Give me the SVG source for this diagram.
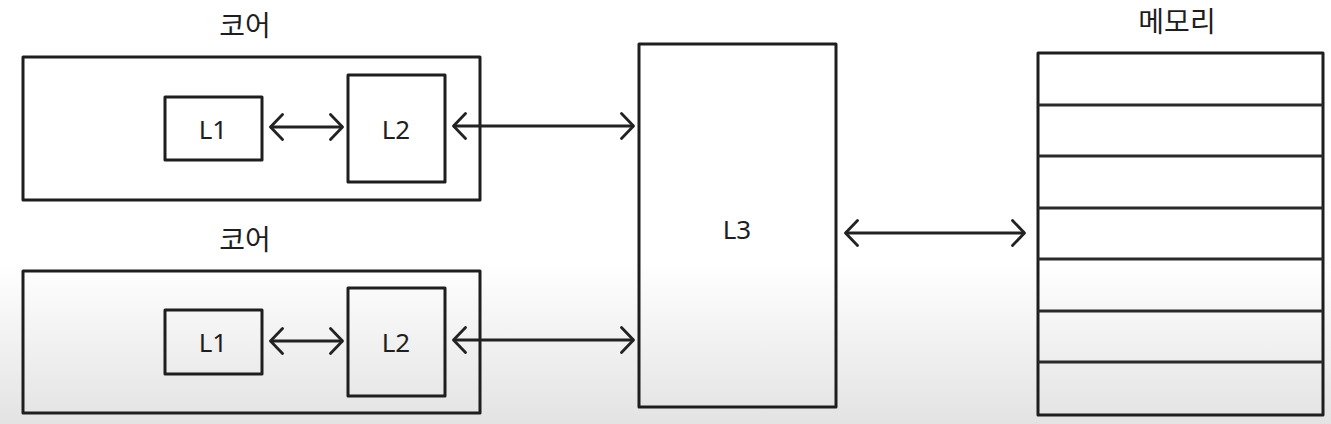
<svg xmlns="http://www.w3.org/2000/svg" width="1331" height="424" viewBox="0 0 1331 424">
<defs>
<linearGradient id="bg" x1="0" y1="0" x2="0" y2="1">
<stop offset="0" stop-color="#ffffff"/>
<stop offset="0.62" stop-color="#ffffff"/>
<stop offset="1" stop-color="#e3e3e3"/>
</linearGradient>
<marker id="ah" viewBox="0 0 15 28" refX="14" refY="14" markerWidth="15" markerHeight="28" markerUnits="userSpaceOnUse" orient="auto-start-reverse">
<path d="M1.5,1.5 L13.5,14 L1.5,26.5" fill="none" stroke="#222" stroke-width="2.8" stroke-linecap="round" stroke-linejoin="round"/>
</marker>
</defs>
<style>
.box{fill:none;stroke:#1e1e1e;stroke-width:3;stroke-linejoin:round}
.ln{fill:none;stroke:#2a2a2a;stroke-width:2.8}
.lbl{font-family:"Noto Sans","Noto Sans CJK KR",sans-serif;font-size:26px;fill:#1e1e1e;text-anchor:middle}
.ttl{font-family:"Noto Sans CJK KR","Noto Sans",sans-serif;font-size:28px;fill:#1e1e1e;text-anchor:middle}
.arr{fill:none;stroke:#222;stroke-width:2.8;marker-start:url(#ah);marker-end:url(#ah)}
</style>
<rect width="1331" height="424" fill="url(#bg)"/>

<g id="core1">
<text class="ttl" x="245" y="36">코어</text>
<rect class="box" x="23" y="57" width="457" height="143"/>
</g>
<g id="core1-L1">
<rect class="box" x="165" y="97" width="97" height="63"/>
<text class="lbl" x="213" y="139">L1</text>
</g>
<g id="core1-L2">
<rect class="box" x="348" y="75" width="97" height="107"/>
<text class="lbl" x="396" y="139">L2</text>
</g>

<g id="core2">
<text class="ttl" x="245" y="250">코어</text>
<rect class="box" x="23" y="271" width="457" height="142"/>
</g>
<g id="core2-L1">
<rect class="box" x="165" y="310" width="97" height="64"/>
<text class="lbl" x="213" y="352">L1</text>
</g>
<g id="core2-L2">
<rect class="box" x="348" y="288" width="97" height="108"/>
<text class="lbl" x="396" y="352">L2</text>
</g>

<g id="L3">
<rect class="box" x="639" y="44" width="197" height="363"/>
<text class="lbl" x="737" y="239">L3</text>
</g>

<g id="memory">
<text class="ttl" x="1177" y="32">메모리</text>
<rect class="box" x="1038" y="53" width="285" height="362"/>
<path class="ln" d="M1038,105H1323M1038,156H1323M1038,208H1323M1038,259H1323M1038,311H1323M1038,362H1323"/>
</g>

<g id="connectors">
<line class="arr" x1="270" y1="127" x2="343" y2="127"/>
<line class="arr" x1="453" y1="126" x2="634" y2="126"/>
<line class="arr" x1="270" y1="341" x2="343" y2="341"/>
<line class="arr" x1="453" y1="340" x2="634" y2="340"/>
<line class="arr" x1="845" y1="233" x2="1025" y2="233"/>
</g>
</svg>
